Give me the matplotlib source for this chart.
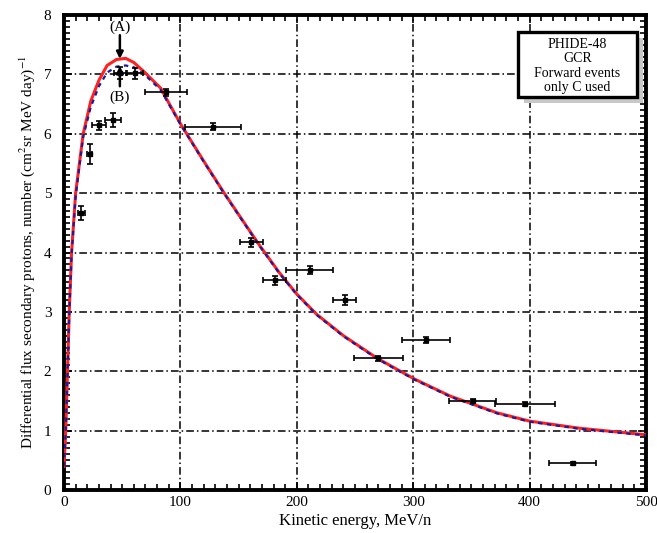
import matplotlib.pyplot as plt
import numpy as np
from matplotlib.ticker import MultipleLocator

plt.rcParams['font.family'] = ['Liberation Serif', 'DejaVu Serif']
plt.rcParams['mathtext.fontset'] = 'stix'

# measured points: energy, flux, errors
energy = [15, 22, 30, 42, 48, 61, 88, 128, 161, 181, 211, 241, 270, 311, 351, 396, 437]
flux = [4.67, 5.66, 6.14, 6.23, 7.02, 7.02, 6.70, 6.12, 4.17, 3.53, 3.70, 3.20, 2.22, 2.53, 1.50, 1.45, 0.45]
energy_err = [3, 2, 6, 7, 5, 7, 18, 24, 10, 10, 20, 10, 21, 21, 20, 26, 20]
flux_err = [0.12, 0.17, 0.07, 0.12, 0.1, 0.09, 0.06, 0.06, 0.08, 0.08, 0.07, 0.08, 0.04, 0.05, 0.04, 0.04, 0.03]

# calculated spectra (A) and (B)
calc_e = [0, 1.5, 3, 4.5, 6.5, 10, 16.5, 23, 30, 37, 45, 53, 60, 69, 83, 90, 100, 120, 137,
          150, 168, 185, 200, 217, 240, 269, 289, 302, 332, 372, 400, 443, 500]
calc_a = [0.4, 1.0, 2.0, 3.0, 4.0, 5.0, 6.0, 6.55, 6.9, 7.15, 7.25, 7.27, 7.2, 7.04, 6.77,
          6.52, 6.17, 5.54, 5.02, 4.64, 4.12, 3.66, 3.3, 2.96, 2.6, 2.22, 2.0, 1.86, 1.58,
          1.3, 1.16, 1.04, 0.93]
calc_b = [0.4, 1.0, 1.95, 2.95, 3.95, 4.95, 5.95, 6.45, 6.8, 7.03, 7.13, 7.15, 7.12, 7.0,
          6.74, 6.5, 6.16, 5.53, 5.01, 4.63, 4.11, 3.65, 3.29, 2.95, 2.59, 2.21, 1.99, 1.85,
          1.57, 1.29, 1.15, 1.03, 0.92]

fig = plt.figure(figsize=(6.57, 5.33), dpi=100)
ax = fig.add_axes([64 / 657, 43 / 533, 582 / 657, 475 / 533])

ax.plot(calc_e, calc_a, color='#ff2020', lw=2.2, zorder=3)
ax.plot(calc_e, calc_b, color='#1a1aa0', lw=1.6, ls=(0, (2, 2)), zorder=4)

ax.errorbar(energy, flux, xerr=energy_err, yerr=flux_err, fmt='s', ms=2.5,
            color='black', ecolor='black', elinewidth=1.2, capsize=2.5,
            capthick=1.2, zorder=5)

ax.set_xlim(0, 500)
ax.set_ylim(0, 8)
ax.xaxis.set_major_locator(MultipleLocator(100))
ax.xaxis.set_minor_locator(MultipleLocator(10))
ax.yaxis.set_major_locator(MultipleLocator(1))
ax.yaxis.set_minor_locator(MultipleLocator(0.1))

ax.grid(True, which='major', color='black', lw=1.1, ls=(0, (5, 2, 1, 2)))
ax.set_axisbelow(False)
for s in ax.spines.values():
    s.set_linewidth(2.8)

ax.tick_params(which='both', direction='in', top=True, right=True,
               labelright=True, labelsize=11, width=1.2)
ax.tick_params(which='major', length=6)
ax.tick_params(which='minor', length=4)
ax.tick_params(axis='y', pad=9)
ax.tick_params(axis='x', pad=4)

ax.set_xlabel('Kinetic energy, MeV/n', fontsize=12, labelpad=3)
ax.set_ylabel('Differential flux secondary protons, number (cm$^2$sr MeV day)$^{-1}$',
              fontsize=11, labelpad=5)

# markers for the two calculated peaks
arrow = dict(arrowstyle='-|>', color='black', lw=1.8, shrinkA=0, shrinkB=0,
             mutation_scale=10)
ax.annotate('', xy=(48, 7.26), xytext=(48, 7.66), arrowprops=arrow, zorder=6)
ax.annotate('', xy=(48, 7.14), xytext=(48, 6.8), arrowprops=arrow, zorder=6)
ax.text(48, 7.8, '(A)', ha='center', va='center', fontsize=11)
ax.text(48, 6.62, '(B)', ha='center', va='center', fontsize=11)

# label box with drop shadow
bx0, by0 = (518 - 64) / 582, (490 - 97) / 475
bw, bh = 119 / 582, 65 / 475
dx, dy = 6 / 582, 6 / 475
ax.add_patch(plt.Rectangle((bx0 + dx, by0 - dy), bw, bh, transform=ax.transAxes,
                           fc='#c8c8c8', ec='none', zorder=6))
ax.add_patch(plt.Rectangle((bx0, by0), bw, bh, transform=ax.transAxes,
                           fc='white', ec='black', lw=2.4, zorder=7))
box_lines = ['PHIDE-48', 'GCR', 'Forward events', 'only C used']
box_rows = [44, 59, 73.5, 88]
for txt, row in zip(box_lines, box_rows):
    ax.text(bx0 + bw / 2, (490 - row) / 475, txt, transform=ax.transAxes,
            ha='center', va='center', fontsize=10, zorder=8)

fig.savefig('out.png', dpi=100)
